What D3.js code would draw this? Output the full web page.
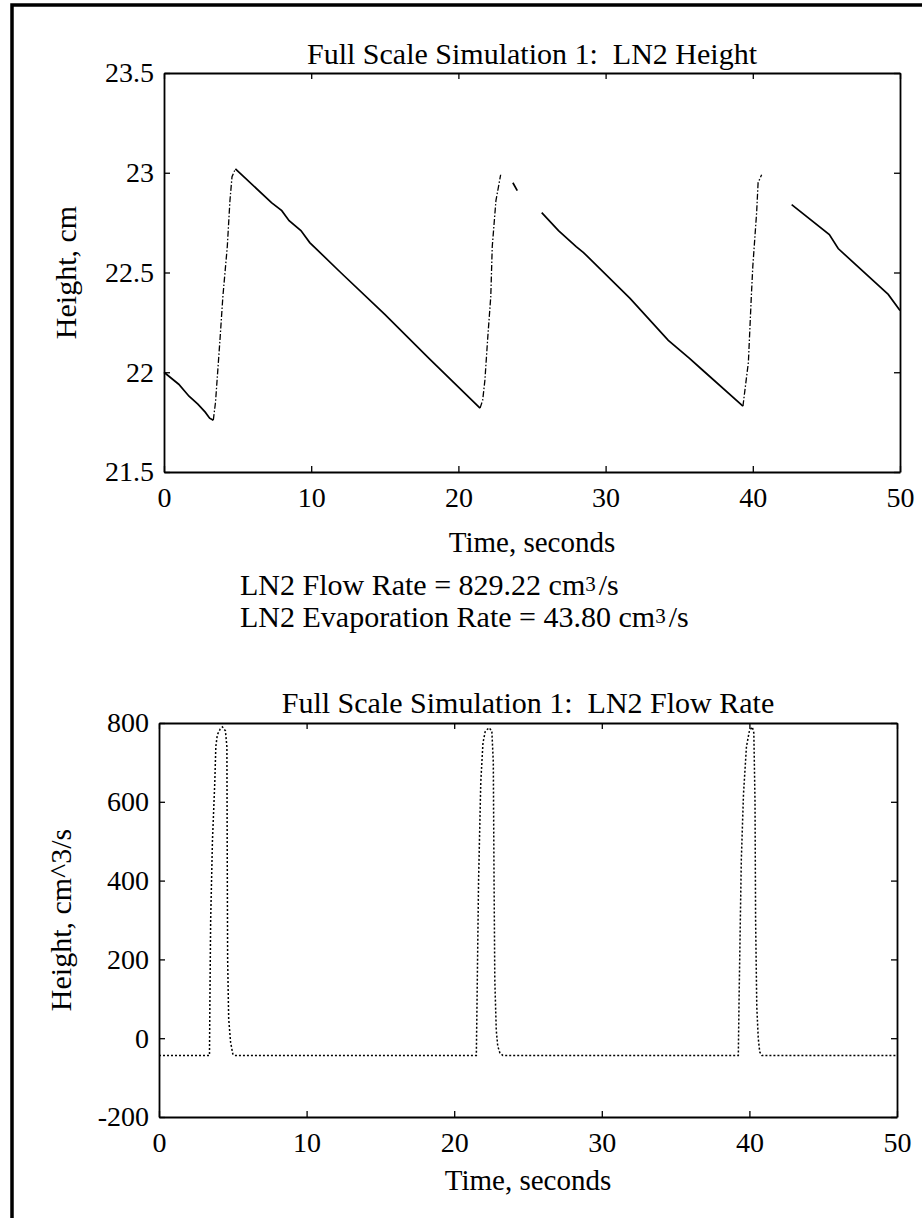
<!DOCTYPE html>
<html>
<head>
<meta charset="utf-8">
<script src="https://cdn.jsdelivr.net/npm/d3@7"></script>
<style>
    body { margin: 0; background: #fff; }
    svg text { font-family: 'Liberation Serif', 'Times New Roman', serif; fill: #000; }
</style>
</head>
<body>
<script>
// data
const timeTicks = [0, 10, 20, 30, 40, 50]
const heightTicks = [21.5, 22, 22.5, 23, 23.5]
const flowTicks = [-200, 0, 200, 400, 600, 800]

// LN2 height (cm), null = gap in the trace
const heightTime = [0, 0.5, 1.0, 1.7, 2.3, 2.8, 3.1, 3.35, 3.5, 3.8, 4.0, 4.3, 4.48, 4.62, 4.85,
    7.3, 8.0, 8.5, 9.3, 9.9, 12, 15, 18, 21.47, 21.65, 21.8, 22.0, 22.2, 22.3, 22.55, 22.87,
    23.3, 23.7, 24.0, 24.8, 25.66, 26.8, 28.0, 28.5, 31.66, 34.26, 35.7, 36.6, 39.33,
    39.7, 39.9, 40.0, 40.26, 40.36, 40.6, 41.6, 42.64, 45.2, 45.8, 49.2, 50]
const heightLevel = [22.00, 21.97, 21.94, 21.88, 21.84, 21.80, 21.77, 21.76, 21.85, 22.16, 22.38, 22.63, 22.86, 22.98, 23.02,
    22.85, 22.81, 22.76, 22.71, 22.65, 22.50, 22.29, 22.07, 21.82, 21.86, 21.96, 22.18, 22.38, 22.63, 22.86, 22.99,
    null, 22.95, 22.91, null, 22.80, 22.71, 22.63, 22.60, 22.37, 22.16, 22.07, 22.01, 21.83,
    22.05, 22.38, 22.53, 22.80, 22.95, 22.99, null, 22.84, 22.69, 22.62, 22.39, 22.31]
// time spans where the tank is filling (drawn dash-dot)
const fillSpans = [[3.35, 4.85], [21.47, 22.87], [39.33, 40.6]]

// LN2 flow rate (cm^3/s)
const flowTime = [0, 3.42, 3.45, 3.5, 3.62, 3.78, 3.85, 3.95, 4.15, 4.3, 4.5, 4.6, 4.62, 4.65, 4.72, 4.85, 5.0, 5.1,
    21.5, 21.55, 21.65, 21.8, 21.95, 22.1, 22.35, 22.55, 22.65, 22.7, 22.75, 22.85, 22.95, 23.1, 23.3,
    39.25, 39.3, 39.45, 39.6, 39.8, 40.0, 40.2, 40.3, 40.38, 40.42, 40.5, 40.6, 40.7, 40.85, 50]
const flowRate = [-43.8, -43.8, 100, 300, 500, 650, 740, 770, 785, 790, 780, 740, 500, 200, 50, -10, -40, -43.8,
    -43.8, 100, 400, 650, 750, 778, 788, 780, 700, 400, 150, 20, -20, -38, -43.8,
    -43.8, 100, 450, 620, 740, 780, 790, 775, 600, 300, 80, 0, -35, -43.8, -43.8]

const flowRateValue = '829.22'
const evapRateValue = '43.80'

// figure
const width = 922
const height = 1218
const nbsp = '\u00a0'

const svg = d3.select('body').append('svg')
    .attr('width', width)
    .attr('height', height)

svg.append('rect')
    .attr('width', width)
    .attr('height', height)
    .attr('fill', '#fff')

// page frame (scanned edge)
svg.append('path')
    .attr('d', `M12,${height} V5 H${width}`)
    .attr('fill', 'none')
    .attr('stroke', '#000')
    .attr('stroke-width', 3.5)

// scales
const xTop = d3.scaleLinear().domain([0, 50]).range([164, 900])
const yTop = d3.scaleLinear().domain([21.5, 23.5]).range([472, 73])
const xBot = d3.scaleLinear().domain([0, 50]).range([159, 897])
const yBot = d3.scaleLinear().domain([-200, 800]).range([1117, 723])

drawFrame(xTop, yTop, timeTicks, heightTicks, d => d === 22 || d === 23 ? d : d3.format('.1f')(d))
drawFrame(xBot, yBot, timeTicks, flowTicks, d => d)

// titles and labels
addTitle(xTop, 64, `Full Scale Simulation 1:${nbsp} LN2 Height`, 30)
addTitle(xBot, 713, `Full Scale Simulation 1:${nbsp} LN2 Flow Rate`, 30)
addTitle(xTop, 552, 'Time, seconds', 29)
addTitle(xBot, 1190, 'Time, seconds', 29)

svg.append('text')
    .attr('transform', `translate(76,${(yTop.range()[0] + yTop.range()[1]) / 2}) rotate(-90)`)
    .attr('text-anchor', 'middle')
    .attr('font-size', 30)
    .text('Height, cm')

svg.append('text')
    .attr('transform', `translate(71,${(yBot.range()[0] + yBot.range()[1]) / 2}) rotate(-90)`)
    .attr('text-anchor', 'middle')
    .attr('font-size', 30)
    .text('Height, cm^3/s')

// rate annotations
addRate(595, `LN2 Flow Rate = ${flowRateValue} cm`)
addRate(627, `LN2 Evaporation Rate = ${evapRateValue} cm`)

// height trace
const heightData = heightTime.map((t, i) => ({t: t, v: heightLevel[i]}))
const inFill = t => fillSpans.some(s => t > s[0] && t < s[1])
const onFill = t => fillSpans.some(s => t >= s[0] && t <= s[1])

svg.append('path')
    .datum(heightData)
    .attr('fill', 'none')
    .attr('stroke', '#000')
    .attr('stroke-width', 1.7)
    .attr('d', d3.line()
        .defined(d => d.v !== null && !inFill(d.t))
        .x(d => xTop(d.t))
        .y(d => yTop(d.v)))

svg.append('path')
    .datum(heightData)
    .attr('fill', 'none')
    .attr('stroke', '#000')
    .attr('stroke-width', 1.3)
    .attr('stroke-dasharray', '6,2,1.5,2')
    .attr('d', d3.line()
        .defined(d => d.v !== null && onFill(d.t))
        .x(d => xTop(d.t))
        .y(d => yTop(d.v)))

// flow trace
const flowData = flowTime.map((t, i) => ({t: t, v: flowRate[i]}))
svg.append('path')
    .datum(flowData)
    .attr('fill', 'none')
    .attr('stroke', '#000')
    .attr('stroke-width', 1.5)
    .attr('stroke-dasharray', '2,2')
    .attr('d', d3.line()
        .x(d => xBot(d.t))
        .y(d => yBot(d.v)))


// helpers
function drawFrame(x, y, xTicks, yTicks, yFormat) {
    const [x0, x1] = x.range()
    const [y0, y1] = y.range()

    const bottom = svg.append('g')
        .attr('transform', `translate(0,${y0})`)
        .call(d3.axisBottom(x).tickValues(xTicks).tickSizeInner(-6).tickSizeOuter(0).tickPadding(15))
    const top = svg.append('g')
        .attr('transform', `translate(0,${y1})`)
        .call(d3.axisTop(x).tickValues(xTicks).tickSizeInner(-6).tickSizeOuter(0).tickFormat(''))
    const left = svg.append('g')
        .attr('transform', `translate(${x0},0)`)
        .call(d3.axisLeft(y).tickValues(yTicks).tickSizeInner(-6).tickSizeOuter(0).tickPadding(10).tickFormat(yFormat))
    const right = svg.append('g')
        .attr('transform', `translate(${x1},0)`)
        .call(d3.axisRight(y).tickValues(yTicks).tickSizeInner(-6).tickSizeOuter(0).tickFormat(''))

    for (let g of [bottom, top, left, right]) {
        g.attr('font-size', 28).attr('font-family', null)
        g.select('.domain').attr('stroke-width', 1.8)
        g.selectAll('.tick line').attr('stroke-width', 1.3)
    }
}

function addTitle(x, yPos, label, size) {
    svg.append('text')
        .attr('x', (x.range()[0] + x.range()[1]) / 2)
        .attr('y', yPos)
        .attr('text-anchor', 'middle')
        .attr('font-size', size)
        .text(label)
}

function addRate(yPos, label) {
    let t = svg.append('text')
        .attr('x', 240)
        .attr('y', yPos)
        .attr('font-size', 30)
        .text(label)
    t.append('tspan')
        .attr('font-size', 21)
        .attr('dy', -4)
        .text('3')
    t.append('tspan')
        .attr('dy', 4)
        .attr('dx', 3)
        .text('/s')
}
</script>
</body>
</html>
